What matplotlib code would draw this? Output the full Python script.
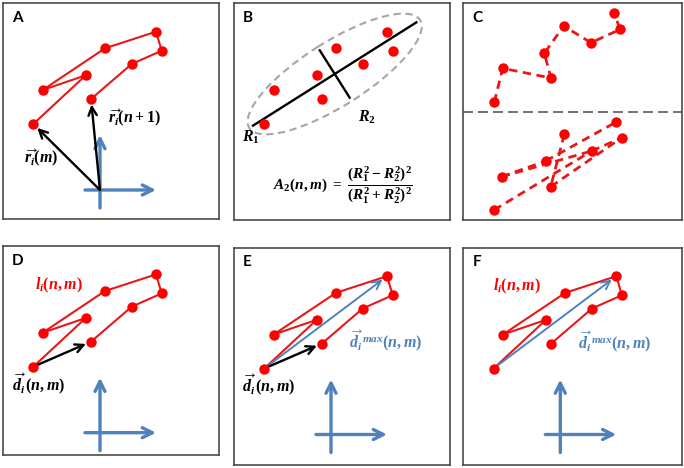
import math

import matplotlib
matplotlib.use("Agg")
import matplotlib.pyplot as plt
import matplotlib.patches as mpatches

plt.rcParams["mathtext.fontset"] = "custom"
plt.rcParams["mathtext.rm"] = "Liberation Serif:bold"
plt.rcParams["mathtext.it"] = "Liberation Serif:italic:bold"
plt.rcParams["mathtext.bf"] = "Liberation Serif:bold"

FIG_W, FIG_H = 684, 468

# cell trajectory in panel pixel units (y pointing down), in time order
TRAJ_X = [30.3, 82.7, 39.7, 102.0, 153.0, 158.7, 128.7, 88.0]
TRAJ_Y = [121.0, 72.3, 87.0, 45.3, 28.7, 47.7, 61.0, 96.0]

# panel C, upper half: one trajectory
C_TOP_X = [31.0, 39.4, 87.7, 81.0, 100.4, 127.7, 157.0, 150.4]
C_TOP_Y = [99.3, 65.3, 75.0, 50.3, 23.0, 39.7, 26.3, 9.7]
# panel C, lower half: points and the pairs joined by dashes
C_BOT_X = [30.7, 38.4, 82.4, 87.4, 101.0, 128.4, 152.4, 158.4]
C_BOT_Y = [207.0, 173.7, 158.0, 183.7, 131.3, 148.0, 119.3, 134.7]
C_BOT_PAIRS = [(0, 5), (1, 2), (1, 5), (2, 6), (4, 3), (3, 7), (5, 7)]
C_SPLIT_Y = 108.7

# gyration ellipse of panel B
B_CENTER = (100.7, 71.0)
B_ANGLE = -32.3
B_R1 = 96.6
B_R2 = 28.0
B_ELL_W = 202.0
B_ELL_H = 64.0

# lab frame (blue cross)
FRAME_ORIGIN = (97.0, 187.0)
FRAME_TIP_X = 153.0
FRAME_TIP_Y = 132.0
FRAME_LEFT = 82.0
FRAME_BOTTOM = 205.0

# panel boxes: left, top, width, height (pixels)
PANELS = {
    "A": (3, 3, 216.3, 216.3),
    "B": (234, 3, 216, 217),
    "C": (463.3, 3, 218.7, 217),
    "D": (3, 245.7, 216.3, 209.3),
    "E": (234, 247.5, 216, 217.5),
    "F": (463.3, 247.5, 218.7, 217.5),
}

RED = "#FF0000"
LINE_RED = "#E81818"
BLUE = "#4F81BD"
BORDER = "#4A4A4A"

R_M = r"$\overrightarrow{r_i}(m)$"
R_N1 = r"$\overrightarrow{r_i}(n+1)$"
L_NM = r"$l_i(n,m)$"
D_NM = r"$\overrightarrow{d_i}\,(n,m)$"
D_MAX = r"$\overrightarrow{d_i}^{\,max}(n,m)$"
A2 = r"$A_2(n,m)\ =\ \dfrac{(R_1^2-R_2^2)^2}{(R_1^2+R_2^2)^2}$"


def make_panel(fig, letter):
    x0, y0, w, h = PANELS[letter]
    ax = fig.add_axes([x0 / FIG_W, 1 - (y0 + h) / FIG_H, w / FIG_W, h / FIG_H])
    ax.set_xlim(0, w)
    ax.set_ylim(h, 0)
    ax.set_xticks([])
    ax.set_yticks([])
    for sp in ax.spines.values():
        sp.set_color(BORDER)
        sp.set_linewidth(1.2)
    ax.text(9, 8, letter, ha="left", va="top", fontsize=11,
            fontweight="bold", family="Lato", color="black")
    return ax


def arrow(ax, start, end, color, lw, shrink=0, scale=15, z=3):
    ax.annotate("", xy=end, xytext=start,
                arrowprops=dict(arrowstyle="->", color=color, lw=lw,
                                shrinkA=0, shrinkB=shrink,
                                mutation_scale=scale),
                zorder=z)


def draw_traj(ax):
    ax.plot(TRAJ_X, TRAJ_Y, color=LINE_RED, lw=1.5, zorder=2)
    ax.plot(TRAJ_X, TRAJ_Y, "o", color=RED, ms=7.5, mec="none", zorder=5)


def draw_frame(ax):
    ox, oy = FRAME_ORIGIN
    arrow(ax, (ox, FRAME_BOTTOM), (ox, FRAME_TIP_Y), BLUE, 2.4, scale=18)
    arrow(ax, (FRAME_LEFT, oy), (FRAME_TIP_X, oy), BLUE, 2.4, scale=18)


fig = plt.figure(figsize=(FIG_W / 100, FIG_H / 100), dpi=100)

# A: positions relative to the lab frame
ax = make_panel(fig, "A")
draw_traj(ax)
draw_frame(ax)
arrow(ax, FRAME_ORIGIN, (TRAJ_X[0], TRAJ_Y[0]), "black", 1.7, shrink=4, z=4)
arrow(ax, FRAME_ORIGIN, (TRAJ_X[-1], TRAJ_Y[-1]), "black", 1.7, shrink=4, z=4)
ax.text(131, 115, R_N1, ha="center", va="center", fontsize=11.5)
ax.text(38, 155, R_M, ha="center", va="center", fontsize=11.5)

# B: radius of gyration tensor
ax = make_panel(fig, "B")
ax.add_patch(mpatches.Ellipse(B_CENTER, B_ELL_W, B_ELL_H, angle=B_ANGLE,
                              fill=False, ls=(0, (3.5, 2.2)), lw=1.5,
                              ec="#A6A6A6", zorder=1))
ca, sa = math.cos(math.radians(B_ANGLE)), math.sin(math.radians(B_ANGLE))
cx, cy = B_CENTER
ax.plot([cx - B_R1 * ca, cx + B_R1 * ca], [cy - B_R1 * sa, cy + B_R1 * sa],
        color="black", lw=1.7, zorder=2)
ax.plot([cx + B_R2 * sa, cx - B_R2 * sa], [cy - B_R2 * ca, cy + B_R2 * ca],
        color="black", lw=1.7, zorder=2)
ax.plot(TRAJ_X, TRAJ_Y, "o", color=RED, ms=7.5, mec="none", zorder=5)
ax.text(16.5, 134, r"$R_1$", ha="center", va="center", fontsize=11.5)
ax.text(133, 114, r"$R_2$", ha="center", va="center", fontsize=11.5)
ax.text(109, 182, A2, ha="center", va="center", fontsize=11)

# C: trajectory vs. shuffled pairs
ax = make_panel(fig, "C")
ax.plot(C_TOP_X, C_TOP_Y, color=LINE_RED, lw=2.0, ls=(0, (3, 2)), zorder=2)
ax.plot(C_TOP_X, C_TOP_Y, "o", color=RED, ms=7.5, mec="none", zorder=5)
for i, j in C_BOT_PAIRS:
    ax.plot([C_BOT_X[i], C_BOT_X[j]], [C_BOT_Y[i], C_BOT_Y[j]],
            color=LINE_RED, lw=2.0, ls=(0, (3, 2)), zorder=2)
ax.plot(C_BOT_X, C_BOT_Y, "o", color=RED, ms=7.5, mec="none", zorder=5)
ax.axhline(C_SPLIT_Y, color="#595959", lw=1.2, ls=(0, (6, 3)), zorder=1)

# D: path length and displacement
ax = make_panel(fig, "D")
draw_traj(ax)
draw_frame(ax)
arrow(ax, (TRAJ_X[0], TRAJ_Y[0]), (TRAJ_X[-1], TRAJ_Y[-1]), "black", 1.7,
      shrink=4, z=4)
ax.text(55.5, 40, L_NM, ha="center", va="center", fontsize=11.5, color=RED)
ax.text(36, 139, D_NM, ha="center", va="center", fontsize=11.5)

# E: displacement and maximal displacement
ax = make_panel(fig, "E")
draw_traj(ax)
draw_frame(ax)
arrow(ax, (TRAJ_X[0], TRAJ_Y[0]), (TRAJ_X[4], TRAJ_Y[4]), BLUE, 1.4,
      shrink=4, z=3)
arrow(ax, (TRAJ_X[0], TRAJ_Y[0]), (TRAJ_X[-1], TRAJ_Y[-1]), "black", 1.7,
      shrink=4, z=4)
ax.text(35, 138, D_NM, ha="center", va="center", fontsize=11.5)
ax.text(152, 94, D_MAX, ha="center", va="center", fontsize=11.5, color=BLUE)

# F: path length and maximal displacement
ax = make_panel(fig, "F")
draw_traj(ax)
draw_frame(ax)
arrow(ax, (TRAJ_X[0], TRAJ_Y[0]), (TRAJ_X[4], TRAJ_Y[4]), BLUE, 1.4,
      shrink=4, z=3)
ax.text(53.5, 38.5, L_NM, ha="center", va="center", fontsize=11.5, color=RED)
ax.text(151.7, 95, D_MAX, ha="center", va="center", fontsize=11.5, color=BLUE)

fig.savefig("out.png", dpi=100)
